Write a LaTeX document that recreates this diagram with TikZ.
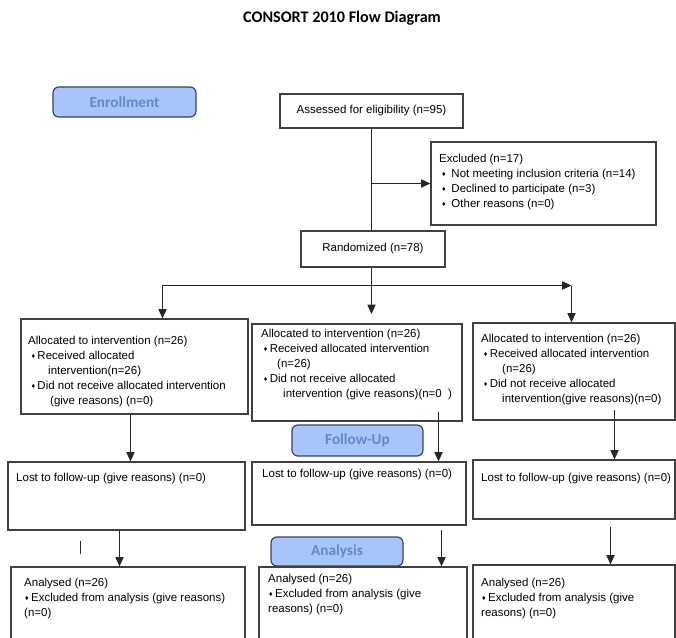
\documentclass[tikz,border=0pt]{standalone}
\usepackage{fontspec}
\setmainfont{Liberation Sans}
\newfontfamily\titlefont{Carlito}
\usepackage{tikz}
\usetikzlibrary{positioning, shapes}
\usetikzlibrary{arrows.meta}
\definecolor{stagefill}{RGB}{168,197,250}
\definecolor{stagetext}{RGB}{98,136,198}
\definecolor{stageline}{RGB}{58,66,84}
\definecolor{boxline}{RGB}{64,64,64}
\newcommand{\dia}{{\fontsize{6}{6}\selectfont\raisebox{0.8pt}{♦}}}

\begin{document}
\begin{tikzpicture}[x=0.03cm, y=-0.03cm]
            \tikzset{box/.style = {draw=boxline, line width=1pt, rectangle, inner sep=0pt, font=\fontsize{9.8}{12.8}\selectfont}}
            \tikzset{size/.style 2 args = {minimum width=#1*0.03cm, minimum height=#2*0.03cm}}
            \tikzset{stage/.style = {draw=stageline, line width=1pt, fill=stagefill, rounded corners=5pt, text=stagetext, inner sep=0pt, font=\titlefont\bfseries\fontsize{13}{15}\selectfont}}
            \tikzset{txt/.style = {anchor=north west, align=left, inner sep=0pt, font=\fontsize{9.8}{12.8}\selectfont}}
            \tikzset{link/.style = {line width=0.9pt, draw=black!85}}
            \tikzset{edge/.style = {link, -{Triangle[length=8pt, width=7pt, fill=black!85]}}}

            \useasboundingbox (0,0) rectangle (676,637);
            \clip (0,0) rectangle (676,637);

            % title and stages
            \node[font=\titlefont\bfseries\fontsize{13.8}{16}\selectfont] (title) at (342,18) {CONSORT 2010 Flow Diagram};
            \node[stage, size={143}{30}] (enroll) at (124.5,102) {Enrollment};
            \node[stage, size={131}{31}] (follow) at (357.5,440.5) {Follow-Up};
            \node[stage, size={132}{29}] (analysis) at (337,551.5) {Analysis};

            % enrollment
            \node[box, size={183}{34}] (assess) at (371.5,111) {Assessed for eligibility (n=95)};
            \node[box, size={225}{83}] (excl) at (543.5,183.5) {};
            \node[txt] at (439,153.7) {Excluded (n=17)\\
                \hspace*{0.09cm}\dia\hspace*{0.17cm}Not meeting inclusion criteria (n=14)\\
                \hspace*{0.09cm}\dia\hspace*{0.17cm}Declined to participate (n=3)\\
                \hspace*{0.09cm}\dia\hspace*{0.17cm}Other reasons (n=0)};
            \node[box, size={144}{36}] (rand) at (373,249) {Randomized (n=78)};

            \coordinate (ex) at (371.5,183.5);
            \coordinate (split) at (371.5,285.5);
            \coordinate (lbr) at (162.5,285.5);
            \coordinate (rbr) at (571.5,285.5);
            \coordinate (midtip) at (371.5,314);
            \draw[link] (assess) -- (assess |- rand.north);
            \draw[edge] (ex) -- (excl.west |- ex);
            \draw[link] (rand.south -| split) -- (split);

            % allocation
            \node[box, size={227}{95}] (alloc1) at (134.5,366.5) {};
            \node[box, size={210}{97}] (alloc2) at (357,372.5) {};
            \node[box, size={202}{97}] (alloc3) at (574,371.5) {};
            \node[txt] at (28,335.7) {Allocated to intervention (n=26)\\
                \hspace*{0.1cm}\dia\hspace*{0.07cm}Received allocated\\
                \hspace*{0.6cm}intervention(n=26)\\
                \hspace*{0.1cm}\dia\hspace*{0.07cm}Did not receive allocated intervention\\
                \hspace*{0.66cm}(give reasons) (n=0)};
            \node[txt] at (261,328.7) {Allocated to intervention (n=26)\\
                \hspace*{0.08cm}\dia\hspace*{0.07cm}Received allocated intervention\\
                \hspace*{0.48cm}(n=26)\\
                \hspace*{0.08cm}\dia\hspace*{0.07cm}Did not receive allocated\\
                \hspace*{0.66cm}intervention (give reasons)(n=0\ \ )};
            \node[txt] at (481,333.7) {Allocated to intervention (n=26)\\
                \hspace*{0.08cm}\dia\hspace*{0.07cm}Received allocated intervention\\
                \hspace*{0.63cm}(n=26)\\
                \hspace*{0.08cm}\dia\hspace*{0.07cm}Did not receive allocated\\
                \hspace*{0.63cm}intervention(give reasons)(n=0)};

            \draw[edge] (split) -| (alloc1.north -| lbr);
            \draw[edge] (split) -- (midtip);
            \draw[edge] (split) -- (rbr);
            \draw[edge] (rbr) -- (alloc3.north -| rbr);

            % follow-up
            \node[box, size={237}{68}] (lost1) at (126.5,496) {};
            \node[box, size={214}{63}] (lost2) at (359,493.5) {};
            \node[box, size={202}{59}] (lost3) at (574,489.5) {};
            \node[txt] at (16,472.7) {Lost to follow-up (give reasons) (n=0)};
            \node[txt] at (262,468.7) {Lost to follow-up (give reasons) (n=0)};
            \node[txt] at (481,472.7) {Lost to follow-up (give reasons) (n=0)};

            \coordinate (f1) at (130.5,0);
            \coordinate (f2) at (438.5,412);
            \coordinate (f3) at (614.5,410);
            \draw[edge] (alloc1.south -| f1) -- (lost1.north -| f1);
            \draw[edge] (f2) -- (lost2.north -| f2);
            \draw[edge] (f3) -- (lost3.north -| f3);

            % analysis
            \node[box, size={234}{100}] (an1) at (128,617) {};
            \node[box, size={208}{100}] (an2) at (363,617) {};
            \node[box, size={202}{100}] (an3) at (574,615) {};
            \node[txt] at (24,577.7) {Analysed (n=26)\\
                \hspace*{0.03cm}\dia\hspace*{0.07cm}Excluded from analysis (give reasons)\\
                (n=0)};
            \node[txt] at (268,573.7) {Analysed (n=26)\\
                \hspace*{0.03cm}\dia\hspace*{0.07cm}Excluded from analysis (give\\
                reasons) (n=0)};
            \node[txt] at (481,577.7) {Analysed (n=26)\\
                \hspace*{0.03cm}\dia\hspace*{0.07cm}Excluded from analysis (give\\
                reasons) (n=0)};

            \coordinate (g1) at (119.5,0);
            \coordinate (g2) at (441.5,530);
            \coordinate (g3) at (610.5,527);
            \coordinate (s1) at (80.5,541);
            \coordinate (s2) at (80.5,554);
            \draw[edge] (lost1.south -| g1) -- (an1.north -| g1);
            \draw[edge] (g2) -- (an2.north -| g2);
            \draw[edge] (g3) -- (an3.north -| g3);
            \draw[link] (s1) -- (s2);

        \end{tikzpicture}
\end{document}
